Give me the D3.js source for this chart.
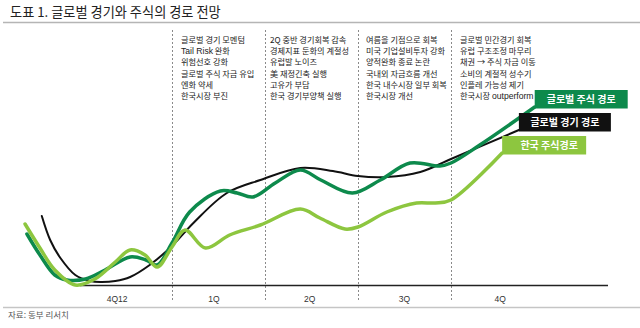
<!DOCTYPE html>
<html>
<head>
<meta charset="utf-8">
<script src="https://cdn.jsdelivr.net/npm/d3@7"></script>
<style>
  body { margin: 0; background: #fff; }
  svg { display: block; font-family: "Noto Sans CJK KR", "Noto Sans", sans-serif; }
  .latin { font-family: "Liberation Sans Narrow", "Liberation Sans", Arial, sans-serif; }
</style>
</head>
<body>
<div id="chart"></div>
<script>
// quarter labels along the bottom
const quarters = ['4Q12', '1Q', '2Q', '3Q', '4Q']
const quarterPos = [0.41, 1.45, 2.48, 3.5, 4.53]

// commentary for each quarter column
const notes = [
    ['글로벌 경기 모멘텀', 'Tail Risk 완화', '위험선호 강화', '글로벌 주식 자금 유입', '엔화 약세', '한국시장 부진'],
    ['2Q 중반 경기회복 감속', '경제지표 둔화의 계절성', '유럽발 노이즈', '美 재정긴축 실행', '고유가 부담', '한국 경기부양책 실행'],
    ['여름을 기점으로 회복', '미국 기업설비투자 강화', '양적완화 종료 논란', '국내외 자금흐름 개선', '한국 내수시장 일부 회복', '한국시장 개선'],
    ['글로벌 민간경기 회복', '유럽 구조조정 마무리', '채권 → 주식 자금 이동', '소비의 계절적 성수기', '인플레 가능성 제기', '한국시장 outperform']
]

// paths: [t (quarters), level]
const economyPath = [
    [-0.4, 35], [-0.31, 23], [-0.2, 14], [-0.04, 5.5], [0.12, 2.5], [0.23, 2], [0.39, 2.5],
    [0.55, 4.5], [0.76, 10.5], [1.0, 20], [1.23, 31.5], [1.59, 46.5], [1.95, 53],
    [2.38, 59], [2.73, 57.5], [3.0, 55], [3.31, 54.5], [3.67, 57], [4.0, 63.5], [4.73, 78]
]
const globalStockPath = [
    [-0.56, 26], [-0.42, 15.5], [-0.26, 5.5], [-0.13, 3], [0.07, 3.5], [0.28, 8], [0.55, 14.5],
    [0.72, 13], [0.84, 10.5], [1.0, 21.5], [1.19, 37], [1.52, 47.5], [1.7, 46.5], [1.87, 44.5],
    [2.11, 51.5], [2.38, 58], [2.6, 53], [2.94, 46.5], [3.24, 53], [3.56, 61.5], [3.88, 60],
    [4.0, 61.5], [4.31, 70.5], [4.9, 89.5]
]
const koreaStockPath = [
    [-0.58, 31], [-0.42, 19], [-0.26, 8], [-0.04, 0.5], [0.17, 3.5], [0.39, 12], [0.55, 18],
    [0.71, 15.5], [0.84, 9.5], [1.0, 19.5], [1.14, 28], [1.36, 19], [1.62, 25.5], [1.95, 30.5],
    [2.38, 38.5], [2.59, 34], [2.86, 28.5], [3.0, 29.5], [3.31, 37], [3.63, 41.5], [3.83, 41.5],
    [4.0, 43], [4.55, 66.5]
]

const series = [
    {name: '글로벌 경기 경로', values: economyPath, color: '#111111', width: 2, boxW: 92},
    {name: '글로벌 주식 경로', values: globalStockPath, color: '#0d8a4c', width: 3.5, boxW: 93},
    {name: '한국 주식경로', values: koreaStockPath, color: '#8dc63f', width: 3.5, boxW: 84}
]

const W = 640, H = 328
const svg = d3.select('#chart').append('svg').attr('width', W).attr('height', H)

const x = d3.scaleLinear().domain([0, 4]).range([79, 451])
const y = d3.scaleLinear().domain([0, 100]).range([286, 86])

// title and rules
svg.append('text').attr('x', 10).attr('y', 17)
   .attr('font-size', 13.2).attr('fill', '#222')
   .text('도표 1. 글로벌 경기와 주식의 경로 전망')
svg.append('line').attr('x1', 3).attr('x2', W).attr('y1', 22.5).attr('y2', 22.5)
   .attr('stroke', '#b5b5b5').attr('stroke-width', 1.5)
svg.append('line').attr('x1', 3).attr('x2', W).attr('y1', 307.5).attr('y2', 307.5)
   .attr('stroke', '#c5c5c5').attr('stroke-width', 1.5)

// quarter separators
svg.selectAll('.sep').data([1, 2, 3, 4]).enter().append('line')
   .attr('class', 'sep')
   .attr('x1', d => x(d) + 0.5).attr('x2', d => x(d) + 0.5)
   .attr('y1', 30).attr('y2', 302)
   .attr('stroke', '#8a8a8a').attr('stroke-width', 1)
   .attr('stroke-dasharray', '2,2')

// baseline
svg.append('line').attr('x1', 80).attr('x2', 608).attr('y1', 285.5).attr('y2', 285.5)
   .attr('stroke', '#222').attr('stroke-width', 1.3)

// quarter labels
svg.selectAll('.q').data(quarters).enter().append('text')
   .attr('class', 'q')
   .attr('x', (d, i) => x(quarterPos[i])).attr('y', 302)
   .attr('text-anchor', 'middle').attr('font-size', 8.5)
   .attr('font-family', 'Liberation Sans, Arial, sans-serif')
   .attr('fill', '#333').text(d => d)

// notes per column; latin runs get a narrow face
const noteOffset = [9, 5, 8, 9]
notes.forEach((col, i) => {
    const rows = svg.append('g').selectAll('text').data(col).enter().append('text')
       .attr('x', x(i + 1) + noteOffset[i])
       .attr('y', (d, j) => 43 + j * 11.2)
       .attr('font-size', 8.2).attr('fill', '#222')
    rows.each(function(d) {
        const t = d3.select(this)
        d.split(/([A-Za-z][A-Za-z ]*[A-Za-z])/).filter(p => p).forEach(p => {
            const span = t.append('tspan').text(p)
            if (/^[A-Za-z]/.test(p)) span.attr('class', 'latin').attr('font-size', 8.6)
        })
    })
})

// paths
const line = d3.line()
    .x(d => x(d[0])).y(d => y(d[1]))
    .curve(d3.curveCatmullRom.alpha(0.5))

series.forEach(s => {
    svg.append('path').datum(s.values)
       .attr('d', line)
       .attr('fill', 'none')
       .attr('stroke', s.color)
       .attr('stroke-width', s.width)
       .attr('stroke-linecap', 'round')
})

// label boxes hang off the last point of each path
series.forEach(s => {
    const last = s.values[s.values.length - 1]
    const bx = x(last[0]), by = y(last[1]) + 1.5
    const g = svg.append('g')
    g.append('rect').attr('x', bx).attr('y', by - 18.5)
     .attr('width', s.boxW).attr('height', 18.5).attr('fill', s.color)
    g.append('text').attr('x', bx + s.boxW / 2 + (s.boxW < 90 ? 5 : 0)).attr('y', by - 5.5)
     .attr('text-anchor', 'middle').attr('font-size', 10).attr('font-weight', 'bold')
     .attr('fill', '#fff').text(s.name)
})

// source
svg.append('text').attr('x', 8).attr('y', 318)
   .attr('font-size', 8.5).attr('fill', '#555')
   .text('자료: 동부 리서치')
</script>
</body>
</html>
